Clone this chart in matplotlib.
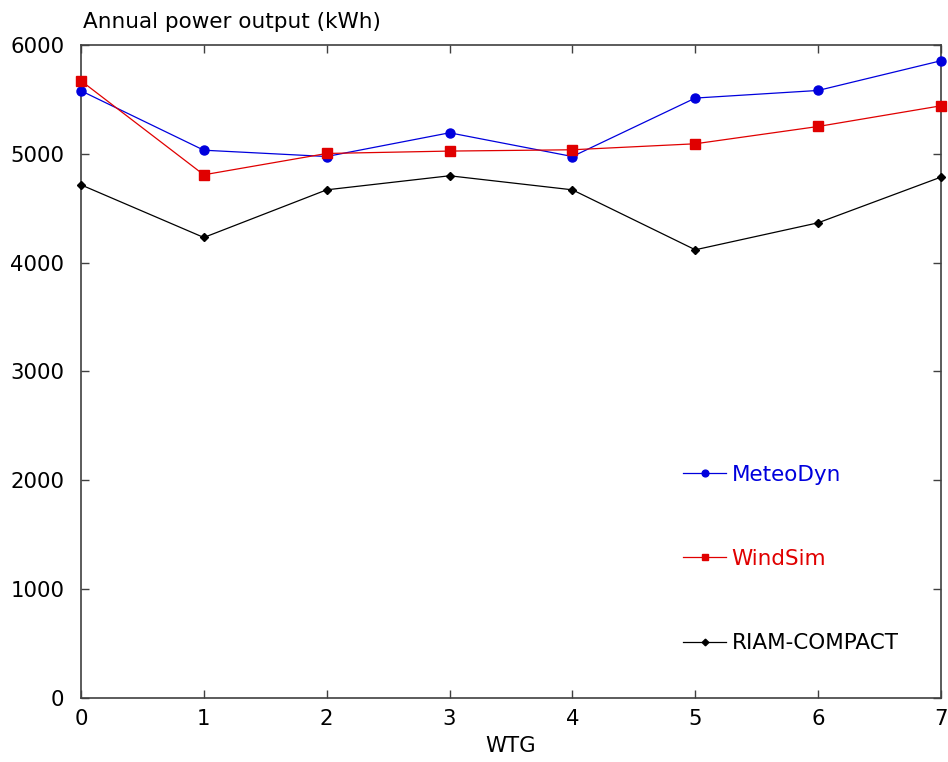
import matplotlib
matplotlib.use("Agg")
import matplotlib.pyplot as plt

wtg = [0, 1, 2, 3, 4, 5, 6, 7]
meteodyn = [5579, 5033, 4975, 5193, 4975, 5512, 5582, 5855]
windsim = [5671, 4807, 5003, 5025, 5037, 5092, 5251, 5441]
riam = [4715, 4231, 4669, 4798, 4669, 4118, 4366, 4786]
yticks = [0, 1000, 2000, 3000, 4000, 5000, 6000]

plt.rcParams['font.family'] = ['DejaVu Sans']
fig = plt.figure(figsize=(9.48, 7.62), dpi=100)
ax = fig.add_axes([0.0854, 0.084, 0.9072, 0.857])

ax.plot(wtg, meteodyn, color='#0000dd', lw=0.9, marker='o', ms=6.5, label='MeteoDyn', clip_on=False, zorder=3)
ax.plot(wtg, windsim, color='#e00000', lw=0.9, marker='s', ms=6.5, label='WindSim', clip_on=False, zorder=3)
ax.plot(wtg, riam, color='black', lw=0.9, marker='D', ms=4.5, label='RIAM-COMPACT', clip_on=False, zorder=3)

ax.set_xlim(0, 7)
ax.set_ylim(0, 6000)
ax.set_xticks(wtg)
ax.set_yticks(yticks)
for s in ax.spines.values():
    s.set_color('#404040')
    s.set_linewidth(1.2)
ax.tick_params(direction='in', length=6, width=1, color='#404040', labelsize=15.3,
               top=True, right=True)
ax.tick_params(axis='y', pad=12)
ax.tick_params(axis='x', pad=8)
ax.set_xlabel('WTG', fontsize=15.3, labelpad=5)
fig.text(0.0875, 0.971, 'Annual power output (kWh)', fontsize=15.5, va='center', ha='left')

leg = ax.legend(loc='center left', bbox_to_anchor=(0.70, 0.213), frameon=False,
                fontsize=15.5, labelspacing=2.98, handlelength=2.0, handletextpad=0.25,
                borderaxespad=0, borderpad=0, markerscale=0.75)
for t, c in zip(leg.get_texts(), ['#0000dd', '#e00000', 'black']):
    t.set_color(c)

fig.savefig('out.png', dpi=100)
